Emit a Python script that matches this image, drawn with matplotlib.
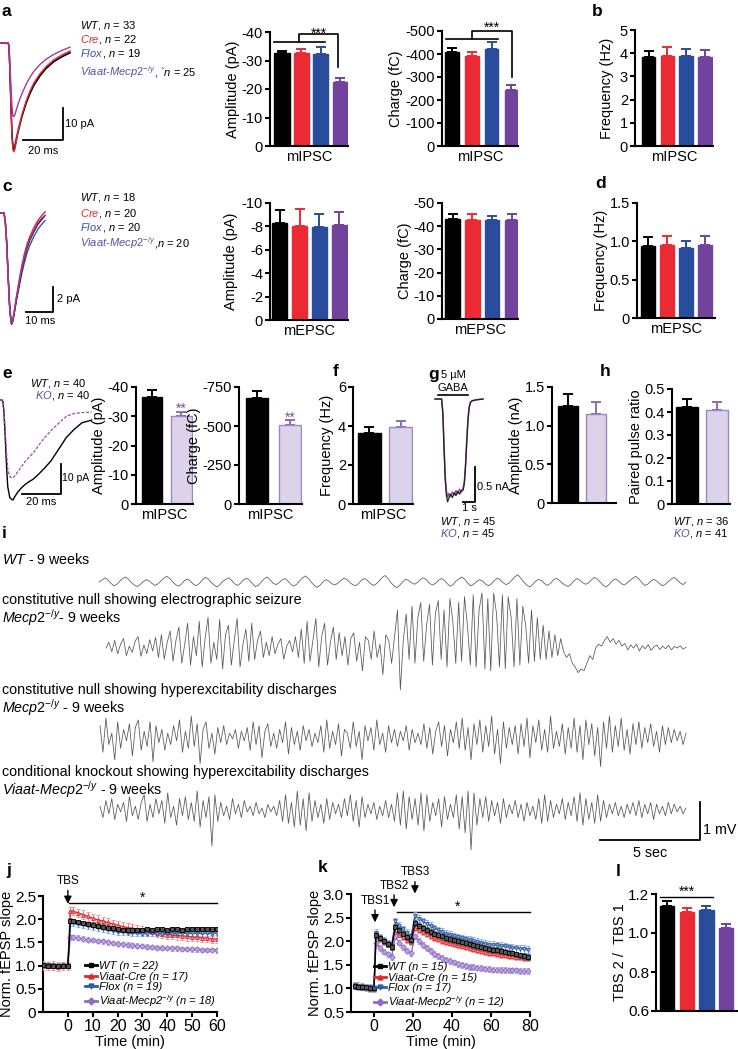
import numpy as np
import matplotlib
matplotlib.use("Agg")
import matplotlib.pyplot as plt
from matplotlib.lines import Line2D

W, H = 738, 1049
plt.rcParams['font.family'] = ['Liberation Sans', 'DejaVu Sans']
plt.rcParams['mathtext.fontset'] = 'custom'
plt.rcParams['mathtext.rm'] = 'Liberation Sans'
plt.rcParams['mathtext.it'] = 'Liberation Sans:italic'
plt.rcParams['mathtext.bf'] = 'Liberation Sans:bold'
plt.rcParams['axes.linewidth'] = 1.5
plt.rcParams['xtick.major.width'] = 1.5
plt.rcParams['ytick.major.width'] = 1.5
plt.rcParams['xtick.major.size'] = 3.5
plt.rcParams['ytick.major.size'] = 3.5
plt.rcParams['ytick.major.pad'] = 1.5
plt.rcParams['xtick.major.pad'] = 1.5

# ------------------------------------------------------------------ DATA
groups4 = ["WT", "Cre", "Flox", "Viaat-Mecp2-/y"]
groups2 = ["WT", "KO"]

a_amp = [32.5, 32.6, 32.2, 22.3];      a_amp_err = [1.0, 1.3, 2.6, 1.7]
a_chg = [410, 391, 423, 243];          a_chg_err = [15, 19, 28, 22]
b_freq = [3.82, 3.89, 3.88, 3.85];     b_freq_err = [0.27, 0.38, 0.29, 0.29]
c_amp = [8.25, 8.05, 7.95, 8.1];       c_amp_err = [1.15, 1.4, 1.1, 1.1]
c_chg = [43.0, 42.6, 42.6, 42.6];      c_chg_err = [2.4, 2.5, 1.8, 2.8]
d_freq = [0.937, 0.95, 0.916, 0.946];  d_freq_err = [0.12, 0.12, 0.085, 0.13]
e_amp = [36.6, 30.1];                  e_amp_err = [2.4, 1.4]
e_chg = [681, 506];                    e_chg_err = [45, 32]
f_freq = [3.64, 3.95];                 f_freq_err = [0.3, 0.3]
g_amp = [1.254, 1.15];                 g_amp_err = [0.155, 0.15]
h_ppr = [0.42, 0.409];                 h_ppr_err = [0.035, 0.036]
l_ratio = [1.14, 1.109, 1.118, 1.027]; l_ratio_err = [0.024, 0.017, 0.022, 0.018]

# mini traces: panel a (ms, pA)
t_a = [0, 4, 4.5, 5, 5.5, 6, 6.5, 7, 7.5, 8, 9, 10, 11, 13, 15, 17, 20, 23, 27, 31, 35]
a_tr_wt = [0, 0, -1, -10, -20, -29, -33, -33.5, -32.5, -31, -28, -25.5, -23, -19, -15.8, -13.2, -10.3, -8, -5.8, -4.3, -3.1]
a_tr_cre = [0, 0, -1, -10, -20.5, -29.5, -33.5, -34, -33, -31, -27.7, -25, -22.4, -18.3, -15, -12.4, -9.6, -7.4, -5.2, -3.7, -2.5]
a_tr_flox = [0, 0, -0.8, -9, -19, -28, -32, -32.5, -31.5, -30, -27.2, -24.8, -22.5, -18.6, -15.5, -13, -10.1, -7.9, -5.7, -4.2, -2.9]
a_tr_viaat = [0, 0, -0.7, -7, -14, -20, -22.8, -23, -22.3, -21.2, -19.2, -17.4, -15.8, -13, -10.7, -8.8, -6.7, -5.1, -3.5, -2.3, -1.3]
# panel c (ms, pA)
t_c = [0, 1.5, 2, 2.5, 3, 3.5, 4, 4.3, 4.7, 5.2, 6, 7, 8, 9, 10, 11, 12.5, 14, 15.5, 16.7]
c_tr_wt = [0, 0, -0.8, -2.5, -5, -7.3, -8.6, -8.9, -8.7, -8.1, -7, -5.8, -4.6, -3.6, -2.8, -2.2, -1.5, -0.9, -0.5, -0.2]
c_tr_cre = [0, 0, -0.9, -2.6, -5.1, -7.3, -8.5, -8.8, -8.6, -8, -6.8, -5.5, -4.3, -3.3, -2.5, -1.9, -1.2, -0.6, -0.2, 0.1]
c_tr_flox = [0, 0, -0.7, -2.3, -4.8, -7, -8.4, -8.7, -8.6, -8.1, -7.1, -6, -4.9, -4, -3.2, -2.6, -1.9, -1.3, -0.9, -0.6]
c_tr_viaat = [0, 0, -0.8, -2.5, -5, -7.2, -8.5, -8.8, -8.6, -8, -6.9, -5.7, -4.5, -3.5, -2.7, -2.1, -1.4, -0.8, -0.4, -0.2]
# panel e (ms, pA)
t_e = [0, 1, 1.5, 2, 2.5, 3, 3.5, 4, 5, 6, 6.7, 7.5, 9, 11, 13, 15, 17, 20, 23, 26, 30, 34, 38, 42, 47]
e_tr_wt = [0, 0, -0.5, -4, -10, -17, -24, -29, -32.5, -33.2, -33.3, -32.3, -30.8, -29.3, -28.1, -27.2, -26.4, -24.6, -22.6, -20.4, -16.5, -12.5, -9.8, -7.6, -6.7]
e_tr_ko = [0, 0, -0.4, -3, -8, -13.5, -19, -23, -25.5, -26, -26, -25.3, -24, -22.2, -20.4, -19, -17.7, -15, -12.5, -10.3, -7.8, -5.4, -4.5, -4.2, -4.0]
# panel g (s, nA)
t_g = [0, 0.55, 0.65, 0.75, 0.85, 0.95, 1.05, 1.15, 1.3, 1.45, 1.6, 1.75, 1.9, 2.05, 2.2, 2.35, 2.45, 2.55, 2.65, 2.75, 2.85, 2.95, 3.05, 3.2, 3.5, 4.0]
g_tr_wt = [0, 0, -0.2, -0.7, -1.15, -1.38, -1.47, -1.42, -1.36, -1.41, -1.34, -1.38, -1.32, -1.36, -1.31, -1.30, -1.2, -0.95, -0.6, -0.3, -0.12, -0.05, -0.03, -0.02, -0.01, 0]
g_tr_ko = [0, 0, -0.18, -0.65, -1.1, -1.32, -1.40, -1.35, -1.39, -1.33, -1.37, -1.31, -1.35, -1.29, -1.33, -1.27, -1.17, -0.92, -0.58, -0.28, -0.11, -0.05, -0.03, -0.02, -0.01, 0]
gaba_on_off = [0.25, 2.75]

# EEG traces (microvolts), panel i
wt_eeg_uv = [0, 50, 110, 60, -30, -100, -70, 20, 90, 130, 70, -20, -80, -120, -60, 10, 60, 30, -40, -90,
             -50, 30, 100, 150, 90, 0, -70, -110, -50, 40, 80, 20, -60, -100, -40, 50, 120, 80, -10, -80,
             -130, -70, 20, 70, 110, 40, -50, -90, -30, 60, 100, 50, -40, -120, -90, 0, 80, 130, 60, -30,
             -70, -20, 50, 90, 30, -60, -110, -60, 30, 110, 160, 90, -10, -90, -140, -80, 10, 60, 20, -50,
             -80, -30, 40, 100, 70, -10, -70, -100, -40, 50, 90, 40, -40, -90, -50, 30, 120, 170, 90, -20,
             -100, -150, -80, 10, 70, 40, -20, -60, -10, 70, 110, 60, -30, -80, -40, 40, 90, 50, -40, -110,
             -70, 20, 80, 130, 70, -30, -100, -60, 10, 60, 30, -50, -100, -50, 40, 100, 60, -20, -70, -30,
             50, 140, 190, 100, 0, -80, -130, -70, 20, 70, 40, -40, -90, -40, 50, 100, 50, -30, -80, -120,
             -60, 30, 90, 50, -20, -60, -20, 60, 120, 70, -10, -90, -130, -60, 30, 80, 40, -40, -80, -30,
             40, 100, 150, 80, -10, -90, -60, 20, 70, 30, -40, -100, -60, 10, 80, 120, 60, -20, -70, 0]
seizure_eeg_uv = [0, 150, -100, 200, -150, 100, 250, -200, 50, -120, 180, 300, -220, 80, -150, 220, -80, 280, -250,
                  350, -300, 150, 450, -350, 200, 550, -400, 100, 650, -450, 300, -200, 700, -500, 250, 800, -400, 150,
                  -300, 750, -550, 350, 600, -450, 200, 780, -500, 100, 500, -350, 650, -300, 200, 450, -250,
                  150, -200, 300, -150, 100, 250, -300, 50, 200, -100, 300, -250,
                  500, -400, 700, -350, 200, 780, -500, 300, 650, -450, 150, 550, -300, 400,
                  -200, 300, -450, 250, 400, -350, 150, -600, 300, 200, -300, 450, -250, 100, -700, 350, 200, -400, 300,
                  1000, -1100, 200,
                  900, -300, 1100, -400, 800, 1200, -350, 600, 1150, -450, 900, 1250, -300, 1000, -500, 1300, 700, -400,
                  1200, -350, 1350, 600, -450,
                  1400, -500, 1000, 1450, -550, 1300, -600, 1450, 900, -500, 1400, -550, 1350, 800, -500, 1300, -450,
                  1100, 600, -400, 1000, -350, 800, -300,
                  600, -300, 450, -250, 350, -200, 250,
                  -100, -250, -150, -400, -500, -650, -550, -600, -400,
                  -200, -300, 0, 100, 50, 200, 300, 150, 250, 100, 200, 50,
                  120, -50, 80, 0, 100, -80, 60, -20, 90, -60, 30, 80, -40, 50, -20, 70, -50, 40, 0, 60, -30, 20]
hyper_eeg_uv = [300, -400, 500, -200, 100, -600, 400, -300, 200, -100, 350, -500, 250, 450, -350, 150, -250, 400, -650, 300,
                -150, 200, -350, 100, -200, 300, -100, 450, -400, 150, -300, 550, -250, 350, -700, 200, 400, -300, 100, -450,
                250, -150, 300, -200, 100, -50, 200, -300, 150, -100, 250, -350, 400, -200, 300, -550, 150, 350, -250, 100,
                -300, 200, -150, 400, -450, 250, -200, 150, -350, 300, -100, 200, -250, 100, -150, 300, -400, 450, -300, 150,
                -200, 350, -500, 200, 100, -300, 400, -250, 150, -600, 300, -100, 250, -350, 450, -200, 100, -400, 300, -150,
                200, -250, 150, -100, 300, -350, 200, -150, 100, -200, 350, -300, 250, -450, 150, 400, -250, 300, -500, 200,
                -150, 400, -300, 500, -350, 250, -600, 350, -200, 450, -400, 300, -250, 550, -450, 200, -700, 400, -300, 250,
                -200, 300, -450, 350, -250, 500, -550, 300, -150, 450, -350, 200, -400, 550, -300, 150, -250, 350, -450, 250,
                -300, 500, -400, 300, -600, 450, -200, 350, -500, 250, -780, 400, -300, 550, -400, 300, -250, 500, -350, 200,
                -450, 350, -200, 400, -300, 250, -150, 350, -250, 150, -400, 300, -200, 250, -150, 200, -100, 150, -200, 100]
cko_eeg_uv = [100, -200, 250, -100, 300, -250, 150, -50, 200, -300, 350, -150, 100, -250, 200, 400, -300, 150, -200, 300,
              -100, 250, -350, 450, -200, 100, -400, 300, -150, 350, -250, 200, -300, 500, -450, 250, -200, 350, -950, 400,
              -300, 200, -150, 100, -250, 300, -100, 150, -200, 250, -50, 100, -150, 200, -100, 50, -200, 150, -50, 100,
              -150, 250, -300, 400, -350, 200, -450, 500, -400, 300, -550, 450, -300, 250, -200, 150, -350, 300, -250, 200,
              -100, 150, -200, 300, -150, 400, -300, 250, -450, 350, -200, 150, -100, 200, -250, 100, -150, 250, -200, 150,
              -300, 450, -400, 500, -500, 350, -250, 300, -400, 450, -550, 400, -300, 200, -150, 300, -450, 350, -250, 150,
              -200, 400, -500, 350, -600, 500, -1050, 450, -400, 300, -200, 350, -300, 250, -150, 200, -350, 300, -200, 150,
              -100, 250, -200, 150, -300, 200, -150, 100, -250, 300, -350, 400, -300, 250, -200, 150, -100, 300, -250, 200,
              -150, 350, -300, 450, -400, 300, -250, 200, -350, 400, -300, 250, -200, 150, -100, 200, -150, 100, -200, 150,
              -100, 200, -150, 250, -200, 150, -100, 200, -250, 150, -100, 100, -150, 200, -100, 150, -50, 100, -100, 50]
eeg_scale_s, eeg_scale_mv = 5, 1

# panel j LTP (min, normalized slope)
t_j = [-10, -8, -6, -4, -2, 0, 1, 2, 4, 6, 8, 10, 12, 14, 16, 18, 20, 22, 24, 26, 28, 30, 32, 34, 36, 38, 40,
       42, 44, 46, 48, 50, 52, 54, 56, 58, 60]
j_wt = [1.01, 1.00, 1.00, 0.99, 1.00, 1.00,
        1.97, 1.96, 1.94, 1.92, 1.90, 1.88, 1.86, 1.84, 1.82, 1.80, 1.78, 1.77, 1.76, 1.76, 1.77, 1.77, 1.78, 1.77,
        1.78, 1.78, 1.77, 1.78, 1.78, 1.77, 1.78, 1.79, 1.78, 1.79, 1.79, 1.78, 1.79]
j_cre = [1.00, 0.99, 1.00, 0.98, 0.99, 1.00,
         2.18, 2.17, 2.14, 2.10, 2.06, 2.02, 1.99, 1.96, 1.93, 1.90, 1.87, 1.84, 1.82, 1.80, 1.78, 1.76, 1.74, 1.72,
         1.70, 1.68, 1.67, 1.66, 1.65, 1.64, 1.63, 1.62, 1.61, 1.60, 1.59, 1.58, 1.57]
j_flox = [1.02, 1.01, 1.00, 1.00, 1.00, 1.00,
          1.92, 1.91, 1.89, 1.87, 1.85, 1.83, 1.81, 1.79, 1.77, 1.75, 1.73, 1.72, 1.71, 1.70, 1.70, 1.69, 1.69, 1.70,
          1.69, 1.69, 1.70, 1.69, 1.69, 1.70, 1.69, 1.70, 1.69, 1.70, 1.70, 1.69, 1.70]
j_viaat = [1.02, 1.01, 1.00, 1.00, 0.99, 0.99,
           1.62, 1.61, 1.60, 1.58, 1.56, 1.55, 1.53, 1.52, 1.50, 1.49, 1.47, 1.46, 1.45, 1.44, 1.43, 1.42, 1.41, 1.40,
           1.39, 1.39, 1.38, 1.37, 1.37, 1.36, 1.36, 1.35, 1.35, 1.34, 1.34, 1.34, 1.33]
j_sem = [0.05, 0.09, 0.06, 0.05]
j_n = [22, 17, 19, 18]

# panel k (min, normalized slope)
t_k = [-10, -8, -6, -4, -2, 0, 1, 3, 5, 7, 9, 11, 13, 15, 17, 19,
       21, 23, 25, 27, 29, 31, 33, 35, 37, 39, 41, 43, 45, 47, 49, 51, 53, 55, 57, 59, 61, 63, 65, 67, 69, 71,
       73, 75, 77, 79]
k_wt = [1.05, 1.04, 1.03, 1.02, 1.01, 1.00, 2.13, 2.06, 2.00, 1.94, 1.88, 2.31, 2.24, 2.16, 2.09, 2.03,
        2.38, 2.33, 2.28, 2.24, 2.20, 2.16, 2.13, 2.10, 2.07, 2.05, 2.03, 2.01, 1.98, 1.96, 1.94, 1.92, 1.90,
        1.88, 1.86, 1.84, 1.82, 1.81, 1.79, 1.78, 1.76, 1.74, 1.72, 1.70, 1.69, 1.67]
k_cre = [1.05, 1.04, 1.03, 1.02, 1.01, 1.00, 2.10, 2.04, 1.99, 1.94, 1.90, 2.20, 2.14, 2.08, 2.03, 1.99,
         2.28, 2.24, 2.19, 2.15, 2.11, 2.07, 2.04, 2.01, 1.98, 1.96, 1.94, 1.91, 1.89, 1.87, 1.85, 1.83, 1.81,
         1.79, 1.77, 1.75, 1.74, 1.72, 1.71, 1.70, 1.69, 1.68, 1.67, 1.66, 1.65, 1.64]
k_flox = [1.06, 1.05, 1.04, 1.02, 1.01, 1.00, 2.17, 2.08, 2.01, 1.95, 1.90, 2.42, 2.33, 2.25, 2.17, 2.10,
          2.54, 2.48, 2.42, 2.37, 2.32, 2.27, 2.23, 2.19, 2.16, 2.13, 2.10, 2.08, 2.06, 2.04, 2.02, 2.00, 1.98,
          1.96, 1.95, 1.93, 1.92, 1.91, 1.90, 1.89, 1.87, 1.86, 1.85, 1.84, 1.83, 1.82]
k_viaat = [1.05, 1.04, 1.03, 1.02, 1.01, 1.00, 1.96, 1.86, 1.78, 1.72, 1.67, 2.10, 1.97, 1.87, 1.80, 1.74,
           2.10, 2.00, 1.92, 1.85, 1.79, 1.73, 1.69, 1.65, 1.61, 1.58, 1.55, 1.52, 1.50, 1.48, 1.46, 1.45, 1.44,
           1.43, 1.42, 1.41, 1.40, 1.40, 1.39, 1.39, 1.38, 1.38, 1.38, 1.37, 1.37, 1.37]
k_sem = [0.06, 0.06, 0.08, 0.06]
k_n = [15, 15, 17, 12]
k_tbs_times = [0.5, 10.3, 21]

# ------------------------------------------------------------------ STYLE
BLACK, RED, BLUE, PURPLE = '#000000', '#ec2a34', '#2a4c9c', '#72439c'
LAV, LAV_EDGE = '#dcd2ea', '#9c86c4'
T_RED, T_BLUE, T_PURP = '#e8262c', '#3c4ea6', '#5a4ea2'
TR_PURP = '#a03b9b'
col4 = [BLACK, RED, BLUE, PURPLE]

fig = plt.figure(figsize=(W / 100, H / 100), dpi=100)
renderer = fig.canvas.get_renderer()


def rect(x0, y0, x1, y1):
    return [x0 / W, 1 - y1 / H, (x1 - x0) / W, (y1 - y0) / H]


def ftext(x, y, s, **kw):
    return fig.text(x / W, 1 - y / H, s, **kw)


def rich(x, y, parts, size=8):
    for s, c in parts:
        t = ftext(x, y, s, color=c, fontsize=size, va='center', ha='left')
        bb = t.get_window_extent(renderer=renderer)
        x += bb.width - 1.5


def bar_panel(box, vals, errs, fills, edges, ecols, ylim, yticks, ylabels, ylabel, xlabel, xlim, width,
              fs_tick=10.5, fs_lab=10.5, lpad=1.5):
    ax = fig.add_axes(rect(*box))
    x = np.arange(len(vals))
    for i in range(len(vals)):
        ax.errorbar(x[i], vals[i], yerr=[[0], [errs[i]]], fmt='none', ecolor=ecols[i], elinewidth=1.4,
                    capsize=3.5, capthick=1.4, zorder=1, clip_on=False)
    ax.bar(x, vals, width, color=fills, edgecolor=edges, linewidth=1.0, zorder=2)
    ax.set_xlim(*xlim)
    ax.set_ylim(*ylim)
    ax.set_yticks(yticks)
    ax.set_yticklabels(ylabels, fontsize=fs_tick)
    ax.set_xticks([])
    ax.spines[['top', 'right']].set_visible(False)
    ax.set_ylabel(ylabel, fontsize=fs_lab, labelpad=lpad)
    if xlabel:
        ax.set_xlabel(xlabel, fontsize=fs_lab, labelpad=3)
    return ax


def panel_label(x, y, s):
    ftext(x, y, s, fontsize=12.5, fontweight='bold', va='center', ha='left')


# ------------------------------------------------------------------ PANEL a
axt = fig.add_axes(rect(0, 20, 100, 160)); axt.axis('off')
axt.set_xlim(0, 50); axt.set_ylim(-36.56, 7.19)
for v, c in [(a_tr_flox, T_BLUE), (a_tr_wt, BLACK), (a_tr_cre, T_RED), (a_tr_viaat, TR_PURP)]:
    axt.plot(t_a, v, color=c, lw=1.0)
axt.plot([11.5, 31.5, 31.5], [-30.3, -30.3, -20.3], color='k', lw=1.3)
ftext(65, 124, '10 pA', fontsize=8, va='center')
ftext(43, 151, '20 ms', fontsize=8, va='center', ha='center')
rich(80, 25, [(r'$\mathit{WT}$, $\mathit{n}$ = 33', BLACK)])
rich(80, 39, [(r'$\mathit{Cre}$', T_RED), (r', $\mathit{n}$ = 22', BLACK)])
rich(80, 53, [(r'$\mathit{Flox}$', T_BLUE), (r', $\mathit{n}$ = 19', BLACK)])
rich(80, 72, [(r'$\mathit{Viaat}$-$\mathit{Mecp2}^{-/y}$', T_PURP), (r', `$\mathit{n}$ = 25', BLACK)])
panel_label(2, 12, 'a')

ax = bar_panel((270, 32, 348, 146), a_amp, a_amp_err, col4, col4, col4, (0, 40), [0, 10, 20, 30, 40],
               ['0', '-10', '-20', '-30', '-40'], 'Amplitude (pA)', 'mIPSC', (-0.62, 3.4), 0.78)
ax.plot([-0.4, 2.2], [36.5, 36.5], color='k', lw=1.2, clip_on=False)
ax.plot([0.88, 0.88, 2.9, 2.9], [36.5, 39.3, 39.3, 27.7], color='k', lw=1.2, clip_on=False)
ax.text(1.9, 38.0, '***', ha='center', va='baseline', fontsize=10)

ax = bar_panel((442, 31, 518, 146), a_chg, a_chg_err, col4, col4, col4, (0, 500), [0, 100, 200, 300, 400, 500],
               ['0', '-100', '-200', '-300', '-400', '-500'], 'Charge (fC)', 'mIPSC', (-0.5, 3.33), 0.68)
ax.plot([-0.3, 2.32], [465, 465], color='k', lw=1.2, clip_on=False)
ax.plot([1.01, 1.01, 3.03, 3.03], [465, 500, 500, 300], color='k', lw=1.2, clip_on=False)
ax.text(2.02, 496, '***', ha='center', va='baseline', fontsize=10)

panel_label(592, 12, 'b')
bar_panel((635, 30, 713, 146), b_freq, b_freq_err, col4, col4, col4, (0, 5), [0, 1, 2, 3, 4, 5],
          ['0', '1', '2', '3', '4', '5'], 'Frequency (Hz)', 'mIPSC', (-0.72, 3.43), 0.72, lpad=4)

# ------------------------------------------------------------------ PANEL c / d
axt = fig.add_axes(rect(0, 200, 70, 330)); axt.axis('off')
axt.set_xlim(0, 25.93); axt.set_ylim(-9.36, 1.04)
for v, c in [(c_tr_flox, T_BLUE), (c_tr_wt, BLACK), (c_tr_cre, T_RED), (c_tr_viaat, TR_PURP)]:
    axt.plot(t_c, v, color=c, lw=1.0)
axt.plot([9.63, 19.63, 19.63], [-7.92, -7.92, -5.92], color='k', lw=1.3)
ftext(57, 299, '2 pA', fontsize=8, va='center')
ftext(40, 321, '10 ms', fontsize=8, va='center', ha='center')
rich(80, 198, [(r'$\mathit{WT}$, $\mathit{n}$ = 18', BLACK)])
rich(80, 213, [(r'$\mathit{Cre}$', T_RED), (r', $\mathit{n}$ = 20', BLACK)])
rich(80, 227, [(r'$\mathit{Flox}$', T_BLUE), (r', $\mathit{n}$ = 20', BLACK)])
rich(80, 243, [(r'$\mathit{Viaat}$-$\mathit{Mecp2}^{-/y}$', T_PURP), (r',$\mathit{n}$ = 20', BLACK)])
panel_label(2, 186, 'c')

bar_panel((270, 203, 348, 320), c_amp, c_amp_err, col4, col4, col4, (0, 10), [0, 2, 4, 6, 8, 10],
          ['0', '-2', '-4', '-6', '-8', '-10'], 'Amplitude (pA)', 'mEPSC', (-0.48, 3.43), 0.75, lpad=3)
bar_panel((442, 203, 518, 319), c_chg, c_chg_err, col4, col4, col4, (0, 50), [0, 10, 20, 30, 40, 50],
          ['0', '-10', '-20', '-30', '-40', '-50'], 'Charge (fC)', 'mEPSC', (-0.53, 3.3), 0.72)
panel_label(595, 184, 'd')
bar_panel((637, 203, 715, 318), d_freq, d_freq_err, col4, col4, col4, (0, 1.5), [0, 0.5, 1.0, 1.5],
          ['0', '0.5', '1.0', '1.5'], 'Frequency (Hz)', 'mEPSC', (-0.55, 3.5), 0.72)

# ------------------------------------------------------------------ PANEL e-h
col2 = [BLACK, LAV]
edge2 = [BLACK, LAV_EDGE]
ecol2 = [BLACK, '#8a6cb8']
axt = fig.add_axes(rect(0, 380, 100, 510)); axt.axis('off')
axt.set_xlim(0, 51.28); axt.set_ylim(-36.67, 6.67)
axt.plot(t_e, e_tr_wt, color=BLACK, lw=1.0)
axt.plot(t_e, e_tr_ko, color='#9b4fab', lw=0.9, dashes=(2.5, 1.2))
axt.plot([11.3, 31.3, 31.3], [-31.3, -31.3, -21.3], color='k', lw=1.3)
ftext(62, 478, '10 pA', fontsize=7.5, va='center')
ftext(41, 502, '20 ms', fontsize=8, va='center', ha='center')
rich(30, 383, [(r'$\mathit{WT}$, $\mathit{n}$ = 40', BLACK)])
rich(35, 395, [(r'$\mathit{KO}$', T_PURP), (r', $\mathit{n}$ = 40', BLACK)])
panel_label(2, 374, 'e')

ax = bar_panel((136, 387, 193, 504), e_amp, e_amp_err, col2, edge2, ecol2, (0, 40), [0, 10, 20, 30, 40],
               ['0', '-10', '-20', '-30', '-40'], 'Amplitude (pA)', 'mIPSC', (-0.55, 1.41), 0.72, lpad=1)
ax.text(1, 31.1, '**', ha='center', va='baseline', fontsize=10, color='#6b5a96')
ax = bar_panel((239, 387, 302, 504), e_chg, e_chg_err, col2, edge2, ecol2, (0, 750), [0, 250, 500, 750],
               ['0', '-250', '-500', '-750'], 'Charge (fC)', 'mIPSC', (-0.55, 1.36), 0.65, lpad=1)
ax.text(1, 527, '**', ha='center', va='baseline', fontsize=10, color='#6b5a96')

panel_label(333, 372, 'f')
bar_panel((353, 387, 413, 504), f_freq, f_freq_err, col2, edge2, ecol2, (0, 6), [0, 2, 4, 6],
          ['0', '2', '4', '6'], 'Frequency (Hz)', 'mIPSC', (-0.53, 1.4), 0.75, lpad=3)

panel_label(428, 374, 'g')
axt = fig.add_axes(rect(430, 390, 490, 510)); axt.axis('off')
axt.set_xlim(-0.417, 4.583); axt.set_ylim(-1.586, 0.129)
axt.plot(t_g, g_tr_ko, color='#9b3fa8', lw=1.1)
axt.plot(t_g, g_tr_wt, color='#222222', lw=0.9)
axt.plot(gaba_on_off, [0.057, 0.057], color='k', lw=1.2)
axt.plot([2.33, 3.33, 3.33], [-1.471, -1.471, -0.971], color='k', lw=1.3)
ftext(453, 375, '5 µM', fontsize=8, va='center', ha='center')
ftext(453, 388, 'GABA', fontsize=8, va='center', ha='center')
ftext(477, 487, '0.5 nA', fontsize=8, va='center')
ftext(469, 508, '1 s', fontsize=8, va='center', ha='center')
rich(440, 521, [(r'$\mathit{WT}$, $\mathit{n}$ = 45', BLACK)])
rich(440, 533, [(r'$\mathit{KO}$', T_PURP), (r', $\mathit{n}$ = 45', BLACK)])
bar_panel((552, 387, 616, 503), g_amp, g_amp_err, col2, edge2, ecol2, (0, 1.5), [0, 0.5, 1.0, 1.5],
          ['0', '0.5', '1.0', '1.5'], 'Amplitude (nA)', None, (-0.57, 1.7), 0.72, lpad=1)

panel_label(600, 372, 'h')
bar_panel((672, 389, 730, 504), h_ppr, h_ppr_err, col2, edge2, ecol2, (0, 0.5), [0, 0.1, 0.2, 0.3, 0.4, 0.5],
          ['0', '0.1', '0.2', '0.3', '0.4', '0.5'], 'Paired pulse ratio', None, (-0.48, 1.43), 0.72, lpad=1)
rich(673, 521, [(r'$\mathit{WT}$, $\mathit{n}$ = 36', BLACK)])
rich(673, 533, [(r'$\mathit{KO}$', T_PURP), (r', $\mathit{n}$ = 41', BLACK)])

# ------------------------------------------------------------------ PANEL i
panel_label(2, 533, 'i')
axi = fig.add_axes(rect(0, 525, W, 860)); axi.axis('off')
axi.set_xlim(-4.95, 31.95); axi.set_ylim(-8.816, 0)
eeg_end = 29.35
for vals, t0, off in [(wt_eeg_uv, 0.0, -1.5), (seizure_eeg_uv, 0.35, -3.237),
                      (hyper_eeg_uv, 0.05, -5.579), (cko_eeg_uv, 0.05, -7.5)]:
    v = np.asarray(vals, dtype=float) / 1000.0
    tt = np.linspace(t0, eeg_end, len(v))
    axi.plot(tt, v + off, color='#555555', lw=0.55)
sbx, sby = 30.05, -8.29
axi.plot([sbx - eeg_scale_s, sbx, sbx], [sby, sby, sby + eeg_scale_mv], color='k', lw=1.3)
ftext(703, 830, '1 mV', fontsize=10.3, va='center')
ftext(650, 853, '5 sec', fontsize=10.3, va='center', ha='center')
fs_i = 10.3
ftext(2, 560, r'$\mathit{WT}$ - 9 weeks', fontsize=fs_i, va='center')
ftext(2, 600, 'constitutive null showing electrographic seizure', fontsize=fs_i, va='center')
ftext(2, 618, r'$\mathit{Mecp2}^{-/y}$- 9 weeks', fontsize=fs_i, va='center')
ftext(2, 690, 'constitutive null showing hyperexcitability discharges', fontsize=fs_i, va='center')
ftext(2, 708, r'$\mathit{Mecp2}^{-/y}$ - 9 weeks', fontsize=fs_i, va='center')
ftext(2, 772, 'conditional knockout showing hyperexcitability discharges', fontsize=fs_i, va='center')
ftext(2, 790, r'$\mathit{Viaat}$-$\mathit{Mecp2}^{-/y}$ - 9 weeks', fontsize=fs_i, va='center')

# ------------------------------------------------------------------ PANEL j / k
line_cols = [BLACK, '#e3262d', '#2b5ca8', '#8d6cc4']
err_cols = ['#555555', '#f08a8e', '#86a8dc', '#bba5df']
markers = ['s', '^', 'v', 'D']


def ltp_panel(box, t, series, sems, xlim, xticks, ylim, yticks, ylabels):
    ax = fig.add_axes(rect(*box))
    order = [1, 3, 2, 0]
    for i in order:
        ax.errorbar(t, series[i], yerr=sems[i], color=line_cols[i], ecolor=err_cols[i], marker=markers[i],
                    ms=2.8, mfc=err_cols[i], mec=line_cols[i], mew=0.6, lw=1.0, elinewidth=0.7,
                    capsize=1.2, capthick=0.6, zorder=3 + (i == 0))
    ax.set_xlim(*xlim); ax.set_ylim(*ylim)
    ax.set_xticks(xticks); ax.set_xticklabels([str(v) for v in xticks], fontsize=11.5)
    ax.set_yticks(yticks); ax.set_yticklabels(ylabels, fontsize=11)
    ax.spines[['top', 'right']].set_visible(False)
    ax.set_xlabel('Time (min)', fontsize=10.5, labelpad=1)
    ax.set_ylabel('Norm. fEPSP slope', fontsize=10.5, labelpad=0.5)
    return ax


def ltp_legend(ax, labels, anchor):
    handles = [Line2D([0], [0], color=line_cols[i], marker=markers[i], ms=3.5, lw=2.0,
                      mfc=line_cols[i], mec=line_cols[i]) for i in range(4)]
    ax.legend(handles, labels, loc='lower left', bbox_to_anchor=anchor, handlelength=1.1,
              handletextpad=0.15, labelspacing=0.05, borderaxespad=0, borderpad=0, frameon=False,
              prop={'size': 8, 'style': 'italic'})


panel_label(6, 870, 'j')
axj = ltp_panel((43, 896, 217, 1012), t_j, [j_wt, j_cre, j_flox, j_viaat], j_sem, (-10, 60),
                [0, 10, 20, 30, 40, 50, 60], (0, 2.5), [0, 0.5, 1.0, 1.5, 2.0, 2.5],
                ['0', '0.5', '1.0', '1.5', '2.0', '2.5'])
ltp_legend(axj, [f'WT (n = {j_n[0]})', f'Viaat-Cre (n = {j_n[1]})', f'Flox (n = {j_n[2]})',
                 f'Viaat-Mecp2$^{{-/y}}$ (n = {j_n[3]})'], (0.24, 0.03))
axj.annotate('', xy=(0, 2.33), xytext=(0, 2.62), annotation_clip=False,
             arrowprops=dict(arrowstyle='-|>', color='k', lw=1.0, mutation_scale=11, shrinkA=0, shrinkB=0))
axj.text(0, 2.82, 'TBS', ha='center', va='center', fontsize=8.5, clip_on=False)
axj.plot([0.5, 60], [2.35, 2.35], color='k', lw=1.0, clip_on=False)
axj.text(30, 2.37, '*', ha='center', va='baseline', fontsize=10)

panel_label(318, 868, 'k')
axk = ltp_panel((351, 894, 530, 1012), t_k, [k_wt, k_cre, k_flox, k_viaat], k_sem, (-11.8, 80),
                [0, 20, 40, 60, 80], (0.5, 3.0), [0.5, 1.0, 1.5, 2.0, 2.5, 3.0],
                ['0.5', '1.0', '1.5', '2.0', '2.5', '3.0'])
ltp_legend(axk, [f'WT (n = {k_n[0]})', f'Viaat-Cre (n = {k_n[1]})', f'Flox (n = {k_n[2]})',
                 f'Viaat-Mecp2$^{{-/y}}$ (n = {k_n[3]})'], (0.13, 0.02))
for tb, lab, ytxt, ytop, ytip in [(k_tbs_times[0], 'TBS1', 2.85, 2.66, 2.40),
                                  (k_tbs_times[1], 'TBS2', 3.17, 2.98, 2.72),
                                  (k_tbs_times[2], 'TBS3', 3.47, 3.26, 3.01)]:
    axk.annotate('', xy=(tb, ytip), xytext=(tb, ytop), annotation_clip=False,
                 arrowprops=dict(arrowstyle='-|>', color='k', lw=1.0, mutation_scale=11, shrinkA=0, shrinkB=0))
    axk.text(tb, ytxt, lab, ha='center', va='center', fontsize=8.5, clip_on=False)
axk.plot([11.8, 80], [2.62, 2.62], color='k', lw=1.0, clip_on=False)
axk.text(42.6, 2.64, '*', ha='center', va='baseline', fontsize=10)

panel_label(616, 872, 'l')
ax = bar_panel((656, 894, 737, 1011), l_ratio, l_ratio_err, col4, col4, col4, (0.6, 1.2), [0.6, 0.8, 1.0, 1.2],
               ['0.6', '0.8', '1.0', '1.2'], 'TBS 2 /  TBS 1', None, (-0.56, 3.55), 0.72, fs_tick=11, lpad=1)
ax.plot([-0.35, 2.35], [1.185, 1.185], color='k', lw=1.0, clip_on=False)
ax.text(1.0, 1.19, '***', ha='center', va='baseline', fontsize=10)

fig.savefig('out.png', dpi=100, facecolor='white')
